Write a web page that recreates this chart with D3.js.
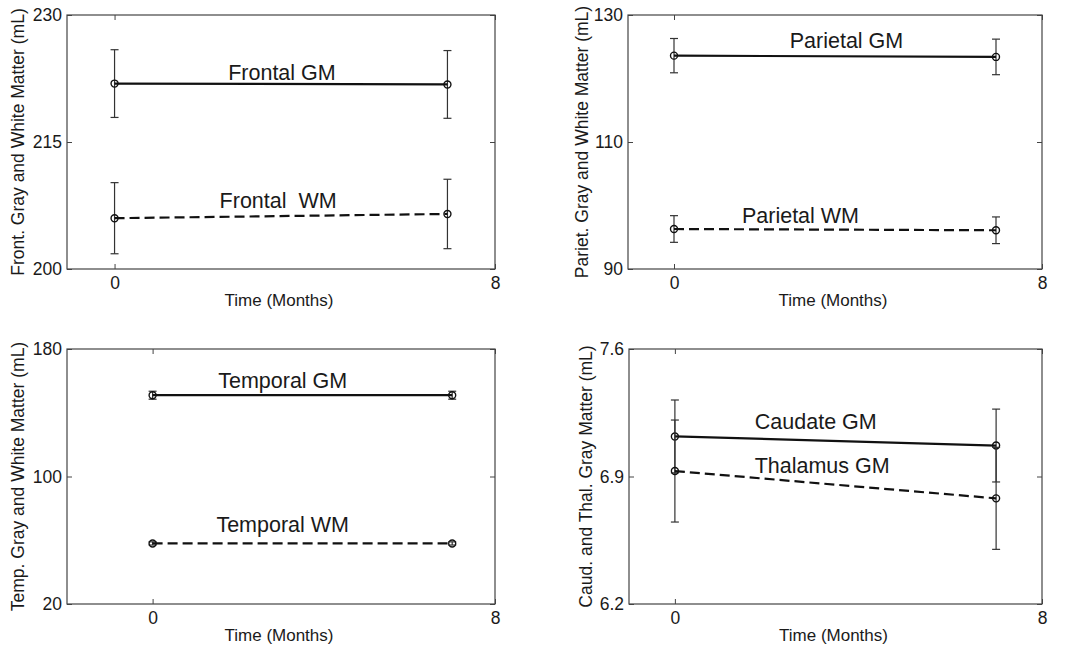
<!DOCTYPE html>
<html>
<head>
<meta charset="utf-8">
<script src="https://cdn.jsdelivr.net/npm/d3@7"></script>
<style>
  body { margin: 0; background: #fff; }
  svg text { font-family: "Liberation Sans", Arial, Helvetica, sans-serif; fill: #1a1a1a; }
</style>
</head>
<body>
<div class="container"></div>
<script>
// time points (months)
const months = [0, 7];

// volumes (mL) and error bar half-lengths
const frontalGM = [221.9, 221.8];
const frontalGMErr = [4.0, 4.0];
const frontalWM = [206.0, 206.5];
const frontalWMErr = [4.2, 4.1];

const parietalGM = [123.6, 123.4];
const parietalGMErr = [2.7, 2.8];
const parietalWM = [96.3, 96.1];
const parietalWMErr = [2.1, 2.1];

const temporalGM = [151.0, 151.0];
const temporalGMErr = [2.5, 2.5];
const temporalWM = [58.0, 58.0];
const temporalWMErr = [1.0, 1.0];

const caudateGM = [7.12, 7.07];
const caudateGMErr = [0.20, 0.20];
const thalamusGM = [6.93, 6.78];
const thalamusGMErr = [0.28, 0.28];

// tick labels
const xTicks = [0, 8];
const frontalTicks = [200, 215, 230];
const parietalTicks = [90, 110, 130];
const temporalTicks = [20, 100, 180];
const deepTicks = [6.2, 6.9, 7.6];

const panels = [
  { box: [67, 15, 495, 269], xdom: [-1, 8], yTicks: frontalTicks, ylabel: "Front. Gray and White Matter (mL)", ylabelX: 18,
    series: [
      { name: "Frontal GM", vals: frontalGM, err: frontalGMErr, dash: null, lx: 3.52, ly: 222.3 },
      { name: "Frontal  WM", vals: frontalWM, err: frontalWMErr, dash: "10,5", lx: 3.44, ly: 207.2 }
    ] },
  { box: [628, 15, 1042, 269], xdom: [-1, 8], yTicks: parietalTicks, ylabel: "Pariet. Gray and White Matter (mL)", ylabelX: 582,
    series: [
      { name: "Parietal GM", vals: parietalGM, err: parietalGMErr, dash: null, lx: 3.75, ly: 124.8 },
      { name: "Parietal WM", vals: parietalWM, err: parietalWMErr, dash: "10,5", lx: 2.75, ly: 97.3 }
    ] },
  { box: [67, 349, 495, 604], xdom: [-2, 8], yTicks: temporalTicks, ylabel: "Temp. Gray and White Matter (mL)", ylabelX: 18,
    series: [
      { name: "Temporal GM", vals: temporalGM, err: temporalGMErr, dash: null, lx: 3.04, ly: 155.3 },
      { name: "Temporal WM", vals: temporalWM, err: temporalWMErr, dash: "10,5", lx: 3.04, ly: 65.4 }
    ] },
  { box: [629, 349, 1042, 604], xdom: [-1, 8], yTicks: deepTicks, ylabel: "Caud. and Thal. Gray Matter (mL)", ylabelX: 586,
    series: [
      { name: "Caudate GM", vals: caudateGM, err: caudateGMErr, dash: null, lx: 3.07, ly: 7.16 },
      { name: "Thalamus GM", vals: thalamusGM, err: thalamusGMErr, dash: "10,5", lx: 3.21, ly: 6.92 }
    ] }
];

const svg = d3.select(".container")
  .append("svg")
  .attr("width", 1071)
  .attr("height", 651);

panels.forEach(p => {
  const [x0, y0, x1, y1] = p.box;
  const x = d3.scaleLinear().domain(p.xdom).range([x0, x1]);
  const y = d3.scaleLinear().domain(d3.extent(p.yTicks)).range([y1, y0]);
  const g = svg.append("g");

  // inward ticks on all four sides (matlab style)
  const fmt = d => String(d);
  g.append("g").attr("transform", `translate(${x0},0)`)
    .call(d3.axisLeft(y).tickValues(p.yTicks).tickSizeInner(-5).tickSizeOuter(0).tickPadding(5).tickFormat(fmt));
  g.append("g").attr("transform", `translate(${x1},0)`)
    .call(d3.axisRight(y).tickValues(p.yTicks).tickSizeInner(-5).tickSizeOuter(0).tickFormat(""));
  g.append("g").attr("transform", `translate(0,${y1})`)
    .call(d3.axisBottom(x).tickValues(xTicks).tickSizeInner(-5).tickSizeOuter(0).tickPadding(8).tickFormat(fmt));
  g.append("g").attr("transform", `translate(0,${y0})`)
    .call(d3.axisTop(x).tickValues(xTicks).tickSizeInner(-5).tickSizeOuter(0).tickFormat(""));

  g.selectAll(".domain").remove();
  g.selectAll(".tick line").attr("stroke", "#444").attr("stroke-width", 1);
  g.selectAll(".tick text").attr("font-size", 17.5).style("fill", "#1a1a1a");

  g.append("rect")
    .attr("x", x0).attr("y", y0)
    .attr("width", x1 - x0).attr("height", y1 - y0)
    .attr("fill", "none").attr("stroke", "#444").attr("stroke-width", 1.2);

  // axis titles
  g.append("text")
    .attr("x", (x0 + x1) / 2 - 2)
    .attr("y", y1 + 37)
    .attr("text-anchor", "middle")
    .attr("font-size", 17)
    .text("Time (Months)");

  g.append("text")
    .attr("transform", `translate(${p.ylabelX},${(y0 + y1) / 2}) rotate(-90)`)
    .attr("text-anchor", "middle")
    .attr("dominant-baseline", "central")
    .attr("font-size", 17.5)
    .text(p.ylabel);

  p.series.forEach(s => {
    const pts = months.map((m, i) => ({ m, v: s.vals[i], e: s.err[i] }));

    // error bars
    pts.forEach(d => {
      const eb = g.append("g").attr("stroke", "#333").attr("stroke-width", 1.2);
      eb.append("line").attr("x1", x(d.m)).attr("x2", x(d.m)).attr("y1", y(d.v - d.e)).attr("y2", y(d.v + d.e));
      eb.append("line").attr("x1", x(d.m) - 4).attr("x2", x(d.m) + 4).attr("y1", y(d.v - d.e)).attr("y2", y(d.v - d.e));
      eb.append("line").attr("x1", x(d.m) - 4).attr("x2", x(d.m) + 4).attr("y1", y(d.v + d.e)).attr("y2", y(d.v + d.e));
    });

    g.append("path")
      .datum(pts)
      .attr("fill", "none")
      .attr("stroke", "#111")
      .attr("stroke-width", 2.2)
      .attr("stroke-dasharray", s.dash)
      .attr("d", d3.line().x(d => x(d.m)).y(d => y(d.v)));

    g.selectAll(null)
      .data(pts)
      .enter().append("circle")
      .attr("cx", d => x(d.m))
      .attr("cy", d => y(d.v))
      .attr("r", 3.5)
      .attr("fill", "none")
      .attr("stroke", "#111")
      .attr("stroke-width", 1.4);

    g.append("text")
      .attr("x", x(s.lx))
      .attr("y", y(s.ly))
      .attr("text-anchor", "middle")
      .attr("font-size", 21.5)
      .style("white-space", "pre")
      .text(s.name);
  });
});
</script>
</body>
</html>
